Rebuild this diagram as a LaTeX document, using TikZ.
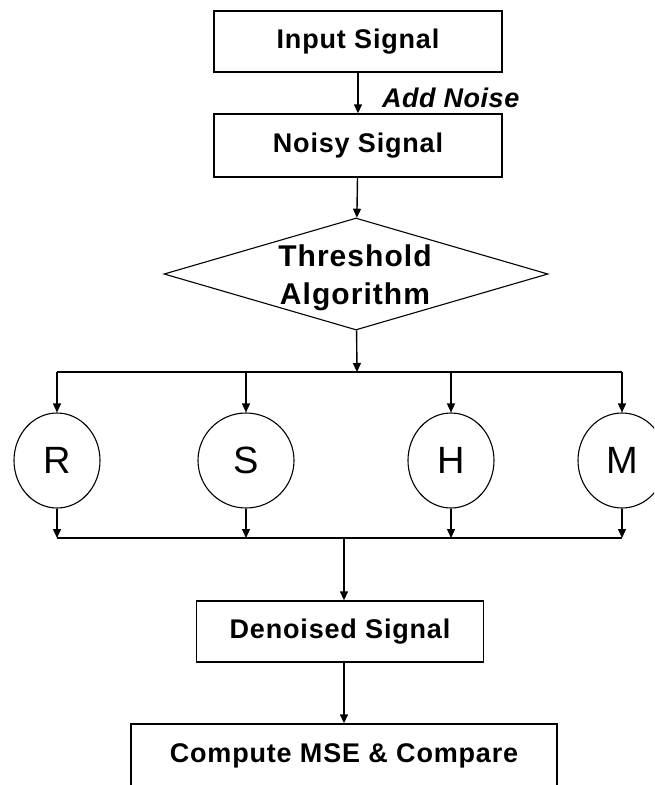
\documentclass[tikz,border=0pt]{standalone}
\usepackage{fontspec}
\setmainfont{Liberation Sans}
\usetikzlibrary{shapes.geometric,arrows.meta}
\tikzset{
  box/.style={draw, line width=1.4pt, rectangle, inner sep=0pt, font=\fontsize{27}{32}\selectfont\bfseries\addfontfeature{LetterSpace=3}},
  circ/.style={draw, line width=1.1pt, ellipse, inner sep=0pt, minimum width=86pt, minimum height=95pt, font=\fontsize{38}{44}\selectfont},
  dia/.style={draw, line width=1.1pt, diamond, inner sep=0pt, aspect=3.43, minimum width=384pt, minimum height=112pt},
  diatext/.style={align=center, inner sep=0pt, font=\fontsize{30}{38}\selectfont\bfseries\addfontfeature{LetterSpace=3.5}},
  arr/.style={line width=1.4pt, -{Triangle[length=9pt,width=8pt]}},
  ln/.style={line width=1.4pt},
  lbl/.style={font=\fontsize{27}{32}\selectfont\bfseries\itshape\addfontfeature{LetterSpace=2}}
}
\begin{document}
\begin{tikzpicture}[x=1pt,y=-1pt]
\clip (0,0) rectangle (654,785);
\fill[white] (0,0) rectangle (654,785);
\node[box, minimum width=288pt, minimum height=61pt] (in) at (358,41.5) {Input Signal};
\node[box, minimum width=288pt, minimum height=63pt] (noisy) at (358,145.5) {Noisy Signal};
\node[dia] (th) at (356,274) {};
\node[diatext] (thtxt) at (355,278) {Threshold\\Algorithm};
\coordinate (bt) at (357,372);
\node[circ] (R) at (57,460.5) {R};
\node[circ, minimum width=96pt] (S) at (246,460.5) {S};
\node[circ] (H) at (451,460.5) {H};
\node[circ, minimum width=88pt] (M) at (622,460.5) {M};
\coordinate (jb) at (344,538);
\node[box, minimum width=287pt, minimum height=61pt] (den) at (340,631.5) {Denoised Signal};
\node[box, minimum width=426pt, minimum height=64pt] (mse) at (344,756) {Compute MSE \& Compare};

\draw[arr] (in) -- node[lbl, anchor=west, pos=0.62, xshift=20pt] (addn) {Add Noise} (noisy);
\draw[arr] (noisy) -- (th);
\draw[arr] (th) -- (bt);
\draw[ln] (R |- bt) -- (M |- bt);
\foreach \c in {R,S,H,M} {
  \draw[arr] (\c |- bt) -- (\c);
  \draw[arr] (\c) -- (\c |- jb);
}
\draw[ln] (R |- jb) -- (M |- jb);
\draw[arr] (jb) -- (den.north -| jb);
\draw[arr] (den.south -| jb) -- (mse.north -| jb);
\end{tikzpicture}
\end{document}
